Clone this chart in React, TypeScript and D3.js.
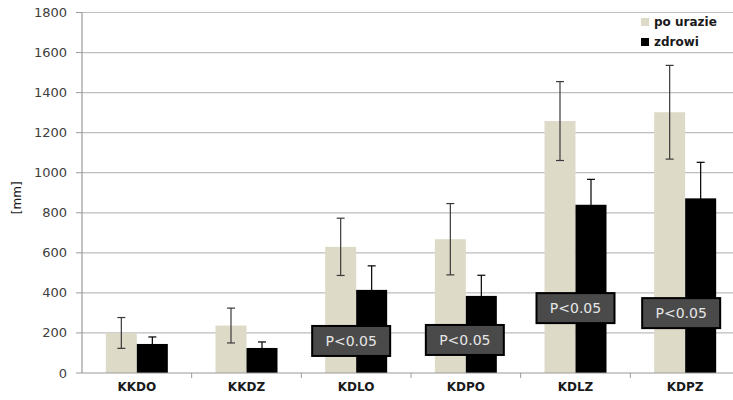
import React from "react";
import * as d3 from "d3";

const categories = ["KKDO", "KKDZ", "KDLO", "KDPO", "KDLZ", "KDPZ"];
const injuredValues = [200, 237, 630, 668, 1258, 1302];
const injuredErrors = [77, 87, 143, 178, 197, 234];
const healthyValues = [145, 125, 415, 385, 840, 872];
const healthyErrors = [35, 30, 120, 103, 127, 180];
const seriesNames = ["po urazie", "zdrowi"];
const yTicks = [0, 200, 400, 600, 800, 1000, 1200, 1400, 1600, 1800];
const pCategories = ["KDLO", "KDPO", "KDLZ", "KDPZ"];
const pLevels = [160, 165, 324, 299];
const pOffsets = [-5, -1, 0, -4];
const pLabel = "P<0.05";

const W = 733;
const H = 400;
const M = { left: 82, top: 12.5, bottom: 27 };
const plotRight = 740;

const LIGHT = "#dedac8";
const DARK = "#000000";
const FONT = "DejaVu Sans, Verdana, sans-serif";

export default function App() {
  const x = d3.scaleBand<string>().domain(categories).range([M.left, plotRight]).paddingInner(0).paddingOuter(0);
  const y = d3.scaleLinear().domain([0, 1800]).range([H - M.bottom, M.top]);
  const pairW = 62;
  const barW = pairW / 2;
  const off = (x.bandwidth() - pairW) / 2;
  const series = [
    { values: injuredValues, errors: injuredErrors, color: LIGHT, errColor: "#3a3a3a" },
    { values: healthyValues, errors: healthyErrors, color: DARK, errColor: "#000" },
  ];
  const y0 = y(0);

  return (
    <svg width={W} height={H} style={{ position: "fixed", left: 0, top: 0, background: "#fff" }} fontFamily={FONT}>
      {yTicks.map((t) => (
        <g key={t}>
          {t > 0 && <line x1={M.left} x2={plotRight} y1={y(t)} y2={y(t)} stroke="#bdbdbd" strokeWidth={1.2} />}
          <line x1={M.left - 6} x2={M.left} y1={y(t)} y2={y(t)} stroke="#9a9a9a" />
          <text x={M.left - 15} y={y(t)} dy="0.35em" textAnchor="end" fontSize={13} fill="#404040">
            {t}
          </text>
        </g>
      ))}
      {categories.map((c, i) => (
        <g key={c}>
          {series.map((s, j) => {
            const bx = (x(c) as number) + off + j * barW;
            const cx = bx + barW / 2;
            const v = s.values[i];
            const e = s.errors[i];
            return (
              <g key={j}>
                <rect x={bx} y={y(v)} width={barW} height={y0 - y(v)} fill={s.color} />
                <line x1={cx} x2={cx} y1={y(v + e)} y2={y(v - e)} stroke={s.errColor} strokeWidth={1.2} />
                <line x1={cx - 4} x2={cx + 4} y1={y(v + e)} y2={y(v + e)} stroke={s.errColor} strokeWidth={1.2} />
                <line x1={cx - 4} x2={cx + 4} y1={y(v - e)} y2={y(v - e)} stroke={s.errColor} strokeWidth={1.2} />
              </g>
            );
          })}
        </g>
      ))}
      <line x1={M.left} x2={M.left} y1={y(1800)} y2={y0} stroke="#9a9a9a" strokeWidth={1.2} />
      <line x1={M.left} x2={plotRight} y1={y0} y2={y0} stroke="#9a9a9a" strokeWidth={1.2} />
      {categories.map((c) => (
        <line key={c} x1={(x(c) as number) + x.bandwidth()} x2={(x(c) as number) + x.bandwidth()} y1={y0} y2={y0 + 5} stroke="#9a9a9a" />
      ))}
      {categories.map((c) => (
        <text key={c} x={(x(c) as number) + x.bandwidth() / 2} y={y0 + 18} textAnchor="middle" fontSize={12} fontWeight="bold" fill="#1a1a1a">
          {c}
        </text>
      ))}
      <text transform={`translate(21,${(y(1800) + y0) / 2 + 5}) rotate(-90)`} textAnchor="middle" fontSize={12} fill="#1a1a1a">
        [mm]
      </text>
      {pCategories.map((c, i) => {
        const cx = (x(c) as number) + x.bandwidth() / 2 + pOffsets[i];
        const cy = y(pLevels[i]);
        return (
          <g key={c}>
            <rect x={cx - 39} y={cy - 15} width={78} height={30} fill="#4a4a4a" stroke="#000" strokeWidth={2} />
            <text x={cx} y={cy} dy="0.36em" textAnchor="middle" fontSize={14} fill="#e6e6e6">
              {pLabel}
            </text>
          </g>
        );
      })}
      {seriesNames.map((n, i) => (
        <g key={n} transform={`translate(641,${18 + i * 20})`}>
          <rect x={0} y={0} width={8} height={8} fill={i === 0 ? LIGHT : DARK} />
          <text x={13} y={8} fontSize={12} fontWeight="bold" fill="#1a1a1a">
            {n}
          </text>
        </g>
      ))}
    </svg>
  );
}
